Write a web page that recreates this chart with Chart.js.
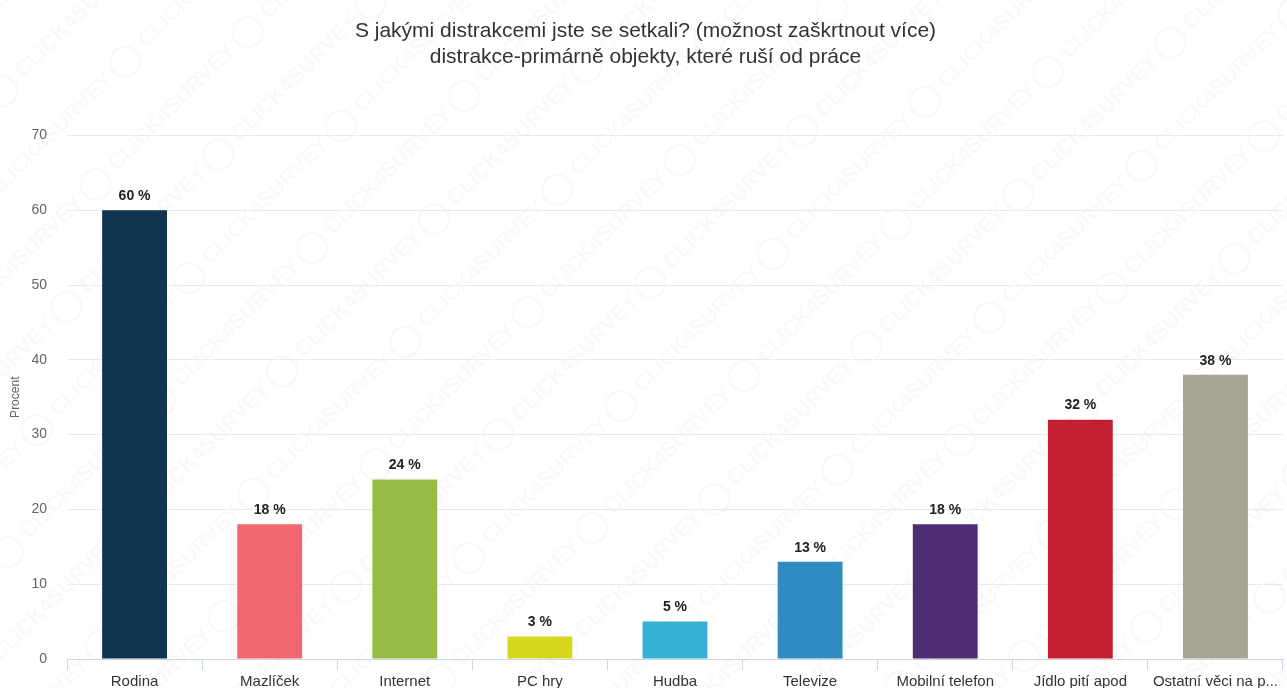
<!DOCTYPE html>
<html>
<head>
<meta charset="utf-8">
<script src="https://cdn.jsdelivr.net/npm/chart.js@4/dist/chart.umd.min.js"></script>
<style>
  html, body { margin: 0; padding: 0; background: #fff; }
  #wrap { width: 1287px; height: 688px; }
</style>
</head>
<body>
<div id="wrap"><canvas id="distChart"></canvas></div>
<script>
// categories and values (percent)
const categories = ['Rodina', 'Mazlíček', 'Internet', 'PC hry', 'Hudba', 'Televize', 'Mobilní telefon', 'Jídlo pití apod', 'Ostatní věci na p...'];
const percents = [60, 18, 24, 3, 5, 13, 18, 32, 38];
const barColors = ['#0f3550', '#f2666e', '#97bb47', '#d5d81f', '#36b0d0', '#2f8bc0', '#4f2d73', '#c21f32', '#a6a592'];
const yTicks = [0, 10, 20, 30, 40, 50, 60, 70];

const fontFamily = '"Liberation Sans", Arial, sans-serif';

// faint diagonal watermark behind everything
const watermark = {
  id: 'watermark',
  beforeDraw(chart) {
    const ctx = chart.ctx;
    ctx.save();
    ctx.fillStyle = 'rgba(0,0,0,0.022)';
    ctx.strokeStyle = 'rgba(0,0,0,0.022)';
    ctx.lineWidth = 3;
    ctx.font = 'bold 22px ' + fontFamily;
    ctx.textBaseline = 'middle';
    ctx.rotate(-Math.PI / 4);
    for (let row = -20; row < 30; row++) {
      for (let col = -10; col < 20; col++) {
        const x = col * 215 + (row % 2) * 107 - 600;
        const y = row * 66;
        ctx.beginPath();
        ctx.arc(x, y, 15, 0, Math.PI * 2);
        ctx.stroke();
        ctx.fillText('CLICK4SURVEY', x + 24, y);
      }
    }
    ctx.restore();
  }
};

// draws "60 %" above each bar
const valueLabels = {
  id: 'valueLabels',
  afterDatasetsDraw(chart) {
    const ctx = chart.ctx;
    const meta = chart.getDatasetMeta(0);
    ctx.save();
    ctx.font = 'bold 14px ' + fontFamily;
    ctx.fillStyle = '#222';
    ctx.textAlign = 'center';
    ctx.textBaseline = 'bottom';
    meta.data.forEach((bar, i) => {
      ctx.fillText(percents[i] + ' %', bar.x, bar.y - 7);
    });
    ctx.restore();
  }
};

const ctx = document.getElementById('distChart').getContext('2d');
const distChart = new Chart(ctx, {
  type: 'bar',
  data: {
    labels: categories,
    datasets: [{
      data: percents,
      backgroundColor: barColors,
      categoryPercentage: 0.48,
      barPercentage: 1.0
    }]
  },
  options: {
    responsive: true,
    maintainAspectRatio: false,
    animation: false,
    layout: { padding: { left: 8, right: 4, top: 0, bottom: 0 } },
    plugins: {
      legend: { display: false },
      tooltip: { enabled: false },
      title: {
        display: true,
        text: ['S jakými distrakcemi jste se setkali? (možnost zaškrtnout více)', 'distrakce-primárně objekty, které ruší od práce'],
        color: '#333',
        font: { family: fontFamily, size: 21, weight: 'normal', lineHeight: 1.2 },
        padding: { top: 19, bottom: 66 }
      }
    },
    scales: {
      x: {
        afterFit(axis) { axis.height = 29; },
        grid: { display: true, drawOnChartArea: false, drawTicks: true, tickLength: 11, color: '#ccd6eb', offset: true },
        border: { display: true, color: '#ccd6eb' },
        ticks: { color: '#333', font: { family: fontFamily, size: 15 }, padding: 3, maxRotation: 0, autoSkip: false }
      },
      y: {
        min: 0,
        max: 70,
        afterBuildTicks(axis) { axis.ticks = yTicks.map(v => ({ value: v })); },
        afterFit(axis) { axis.width = 59; },
        grid: { color: '#eaeaea', drawTicks: false },
        border: { display: false },
        ticks: { color: '#666', font: { family: fontFamily, size: 14 }, padding: 20 },
        title: { display: true, text: 'Procent', color: '#666', font: { family: fontFamily, size: 12 }, padding: 0 }
      }
    }
  },
  plugins: [watermark, valueLabels]
});
</script>
</body>
</html>
